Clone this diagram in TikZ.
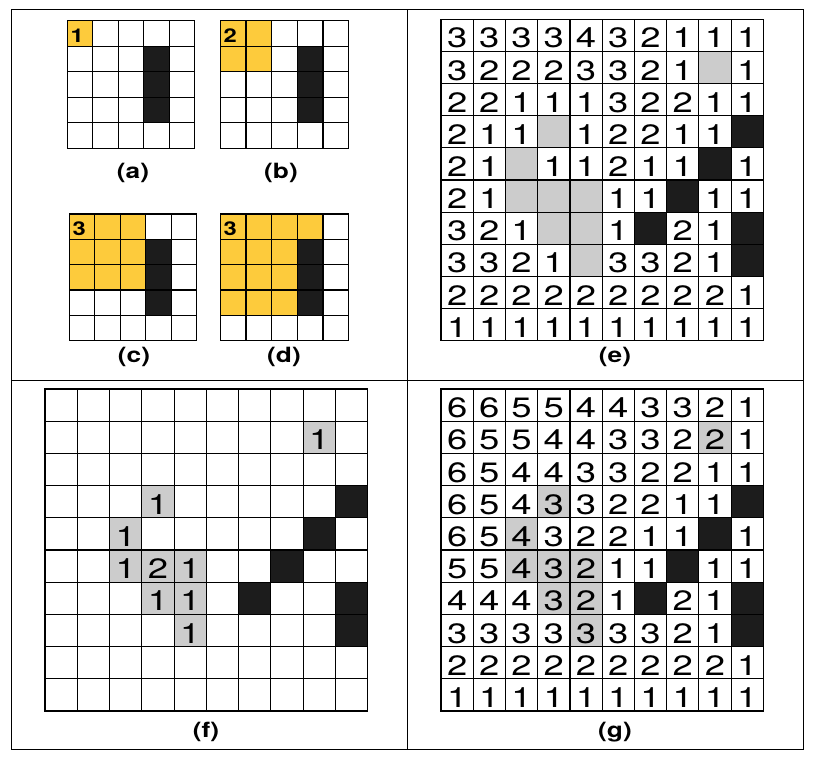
\documentclass[tikz,border=0pt]{standalone}
\usepackage{fontspec}
\setmainfont{TeX Gyre Heros}
\definecolor{yel}{HTML}{FDCB3C}
\definecolor{gry}{HTML}{CCCCCC}
\definecolor{blk}{HTML}{1C1C1C}
\newcommand\widetext[2][1.3]{\scalebox{#1}[1]{#2}}
\newcommand\gridlines[1]{%
  \foreach \i in {0,...,#1} {%
    \draw[gridline] (\i,0) -- (\i,#1);
    \draw[gridline] (0,\i) -- (#1,\i);
  }}
\tikzset{
  gridline/.style={line width=1.15pt, black, line cap=rect},
  frameline/.style={line width=1pt, black},
  dig/.style={inner sep=0pt, anchor=base, yshift=3.5pt, font=\fontsize{28}{30}\selectfont},
  ydig/.style={inner sep=0pt, anchor=base west, xshift=3pt, yshift=4pt, font=\fontsize{19}{22}\selectfont\bfseries},
  lbl/.style={inner sep=0pt, anchor=base, font=\fontsize{21}{24}\selectfont\bfseries},
}
\begin{document}
\begin{tikzpicture}[x=1pt,y=-1pt]
\useasboundingbox (0,0) rectangle (814,760);
\fill[white] (0,0) rectangle (814,760);
% frame
\draw[frameline] (11,10) rectangle (803.5,749.3);
\coordinate (vt) at (407.3,10);
\coordinate (vb) at (407.3,749.3);
\coordinate (hl) at (11,380.3);
\coordinate (hr) at (803.5,380.3);
\draw[frameline] (vt) -- (vb);
\draw[frameline] (hl) -- (hr);

% (a)
\begin{scope}[shift={(67.3,20.7)}, x=25.48pt, y=-25.52pt]
  \fill[yel] (0,0) rectangle (1,1);
  \fill[blk] (3,1) rectangle (4,4);
  \gridlines{5}
  \node[ydig] (a-n) at (0,1) {\widetext[1.25]{1}};
\end{scope}
% (b)
\begin{scope}[shift={(220.3,20.7)}, x=25.68pt, y=-25.52pt]
  \fill[yel] (0,0) rectangle (2,2);
  \fill[blk] (3,1) rectangle (4,4);
  \gridlines{5}
  \node[ydig] (b-n) at (0,1) {\widetext[1.25]{2}};
\end{scope}
% (c)
\begin{scope}[shift={(69.3,214)}, x=25.48pt, y=-25.34pt]
  \fill[yel] (0,0) rectangle (3,3);
  \fill[blk] (3,1) rectangle (4,4);
  \gridlines{5}
  \node[ydig] (c-n) at (0,1) {\widetext[1.25]{3}};
\end{scope}
% (d)
\begin{scope}[shift={(220.3,214)}, x=25.68pt, y=-25.34pt]
  \fill[yel] (0,0) rectangle (3,4);
  \fill[yel] (3,0) rectangle (4,1);
  \fill[blk] (3,1) rectangle (4,4);
  \gridlines{5}
  \node[ydig] (d-n) at (0,1) {\widetext[1.25]{3}};
\end{scope}

% (e)
\begin{scope}[shift={(441,19.3)}, x=32.23pt, y=-32.14pt]
  \foreach \cc/\rr in {8/1,3/3,2/4,2/5,3/5,4/5,3/6,4/6,4/7}
    \fill[gry] (\cc,\rr) rectangle ++(1,1);
  \foreach \cc/\rr in {9/3,8/4,7/5,6/6,9/6,9/7}
    \fill[blk] (\cc,\rr) rectangle ++(1,1);
  \gridlines{10}
  \foreach \row [count=\rr from 0] in {
    {3,3,3,3,4,3,2,1,1,1},
    {3,2,2,2,3,3,2,1,0,1},
    {2,2,1,1,1,3,2,2,1,1},
    {2,1,1,0,1,2,2,1,1,0},
    {2,1,0,1,1,2,1,1,0,1},
    {2,1,0,0,0,1,1,0,1,1},
    {3,2,1,0,0,1,0,2,1,0},
    {3,3,2,1,0,3,3,2,1,0},
    {2,2,2,2,2,2,2,2,2,1},
    {1,1,1,1,1,1,1,1,1,1}} {
    \foreach \v [count=\cc from 0] in \row {
      \ifnum\v>0
        \node[dig] (e-\rr-\cc) at (\cc+0.5,\rr+1) {\widetext{\v}};
      \fi
    }
  }
\end{scope}

% (f)
\begin{scope}[shift={(45,389)}, x=32.27pt, y=-32.2pt]
  \foreach \cc/\rr in {8/1,3/3,2/4,2/5,3/5,4/5,3/6,4/6,4/7}
    \fill[gry] (\cc,\rr) rectangle ++(1,1);
  \foreach \cc/\rr in {9/3,8/4,7/5,6/6,9/6,9/7}
    \fill[blk] (\cc,\rr) rectangle ++(1,1);
  \gridlines{10}
  \foreach \row [count=\rr from 0] in {
    {0,0,0,0,0,0,0,0,0,0},
    {0,0,0,0,0,0,0,0,1,0},
    {0,0,0,0,0,0,0,0,0,0},
    {0,0,0,1,0,0,0,0,0,0},
    {0,0,1,0,0,0,0,0,0,0},
    {0,0,1,2,1,0,0,0,0,0},
    {0,0,0,1,1,0,0,0,0,0},
    {0,0,0,0,1,0,0,0,0,0},
    {0,0,0,0,0,0,0,0,0,0},
    {0,0,0,0,0,0,0,0,0,0}} {
    \foreach \v [count=\cc from 0] in \row {
      \ifnum\v>0
        \node[dig] (f-\rr-\cc) at (\cc+0.5,\rr+1) {\widetext{\v}};
      \fi
    }
  }
\end{scope}

% (g)
\begin{scope}[shift={(441,389)}, x=32.23pt, y=-32.2pt]
  \foreach \cc/\rr in {8/1,3/3,2/4,2/5,3/5,4/5,3/6,4/6,4/7}
    \fill[gry] (\cc,\rr) rectangle ++(1,1);
  \foreach \cc/\rr in {9/3,8/4,7/5,6/6,9/6,9/7}
    \fill[blk] (\cc,\rr) rectangle ++(1,1);
  \gridlines{10}
  \foreach \row [count=\rr from 0] in {
    {6,6,5,5,4,4,3,3,2,1},
    {6,5,5,4,4,3,3,2,2,1},
    {6,5,4,4,3,3,2,2,1,1},
    {6,5,4,3,3,2,2,1,1,0},
    {6,5,4,3,2,2,1,1,0,1},
    {5,5,4,3,2,1,1,0,1,1},
    {4,4,4,3,2,1,0,2,1,0},
    {3,3,3,3,3,3,3,2,1,0},
    {2,2,2,2,2,2,2,2,2,1},
    {1,1,1,1,1,1,1,1,1,1}} {
    \foreach \v [count=\cc from 0] in \row {
      \ifnum\v>0
        \node[dig] (g-\rr-\cc) at (\cc+0.5,\rr+1) {\widetext{\v}};
      \fi
    }
  }
\end{scope}

% labels
\node[lbl] (la) at (133,178) {\widetext[1.25]{(a)}};
\node[lbl] (lb) at (281,178) {\widetext[1.25]{(b)}};
\node[lbl] (lc) at (134,362.5) {\widetext[1.25]{(c)}};
\node[lbl] (ld) at (284,362.5) {\widetext[1.25]{(d)}};
\node[lbl] (le) at (615,362.5) {\widetext[1.25]{(e)}};
\node[lbl] (lf) at (206,737.5) {\widetext[1.25]{(f)}};
\node[lbl] (lg) at (615,737.5) {\widetext[1.25]{(g)}};
\end{tikzpicture}
\end{document}
